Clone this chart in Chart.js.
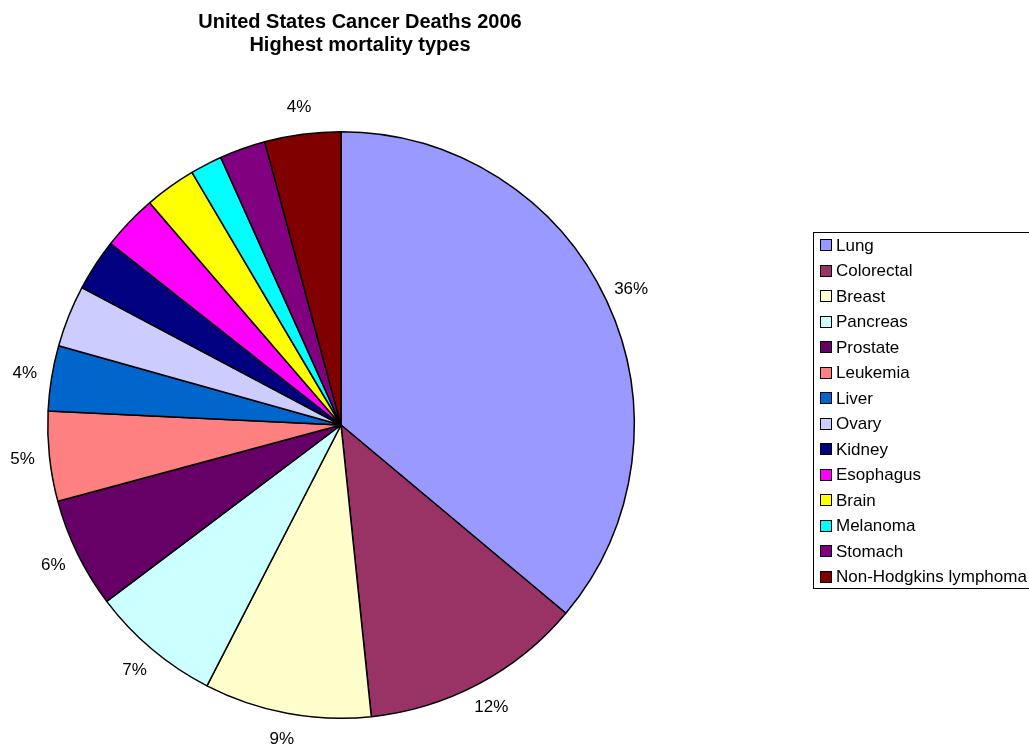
<!DOCTYPE html>
<html>
<head>
<meta charset="utf-8">
<title>United States Cancer Deaths 2006</title>
<script src="https://cdn.jsdelivr.net/npm/chart.js@4/dist/chart.umd.min.js"></script>
<style>
  html, body { margin: 0; padding: 0; background: #ffffff; }
  #wrap { width: 1029px; height: 745px; position: relative; }
</style>
</head>
<body>
<div id="wrap"><canvas id="chart" width="1029" height="745"></canvas></div>
<script>
// Estimated cancer deaths, United States 2006
const categories = [
  'Lung', 'Colorectal', 'Breast', 'Pancreas', 'Prostate', 'Leukemia', 'Liver',
  'Ovary', 'Kidney', 'Esophagus', 'Brain', 'Melanoma', 'Stomach', 'Non-Hodgkins lymphoma'
];
const deaths = [
  162460, 55170, 41430, 32300, 27350, 22280, 16200,
  15310, 12890, 13770, 12760, 7910, 11430, 18840
];
const sliceColors = [
  '#9999FF', '#993366', '#FFFFCC', '#CCFFFF', '#660066', '#FF8080', '#0066CC',
  '#CCCCFF', '#000080', '#FF00FF', '#FFFF00', '#00FFFF', '#800080', '#800000'
];
const titleLines = ['United States Cancer Deaths 2006', 'Highest mortality types'];
// Percentage labels are shown for the larger slices only
const labelMinShare = 0.035;

const FONT = '"Liberation Sans", Arial, sans-serif';

const annotations = {
  id: 'annotations',
  afterDraw(chart) {
    const ctx = chart.ctx;
    const meta = chart.getDatasetMeta(0);
    const values = chart.data.datasets[0].data;
    const total = values.reduce((a, b) => a + b, 0);

    // Title
    ctx.save();
    ctx.fillStyle = '#000';
    ctx.textAlign = 'center';
    ctx.textBaseline = 'middle';
    ctx.font = 'bold 20px ' + FONT;
    ctx.fillText(titleLines[0], 360, 22);
    ctx.fillText(titleLines[1], 360, 45);

    // Percentage labels outside the pie
    ctx.font = '17px ' + FONT;
    meta.data.forEach((arc, i) => {
      const share = values[i] / total;
      if (share < labelMinShare) return;
      const mid = (arc.startAngle + arc.endAngle) / 2;
      const r = arc.outerRadius + 27;
      const x = arc.x + Math.cos(mid) * r;
      const y = arc.y + Math.sin(mid) * r;
      ctx.fillText(Math.round(share * 100) + '%', x, y);
    });

    // Legend box
    const rowH = 25.5;
    ctx.strokeStyle = '#000';
    ctx.lineWidth = 1;
    ctx.strokeRect(813.5, 232.5, 240, 356);
    ctx.textAlign = 'left';
    ctx.font = '17px ' + FONT;
    chart.data.labels.forEach((lab, i) => {
      const cy = 245 + i * rowH;
      const top = Math.round(cy) - 5;
      ctx.fillStyle = sliceColors[i];
      ctx.fillRect(821, top, 10, 10);
      ctx.strokeRect(820.5, top - 0.5, 11, 11);
      ctx.fillStyle = '#000';
      ctx.fillText(lab, 836, cy + 1);
    });
    ctx.restore();
  }
};

new Chart(document.getElementById('chart'), {
  type: 'pie',
  data: {
    labels: categories,
    datasets: [{
      data: deaths,
      backgroundColor: sliceColors,
      borderColor: '#000000',
      borderWidth: 1.5
    }]
  },
  options: {
    responsive: false,
    animation: false,
    layout: { padding: { left: 47, right: 394, top: 131, bottom: 26 } },
    plugins: {
      legend: { display: false },
      title: { display: false },
      tooltip: { enabled: false }
    }
  },
  plugins: [annotations]
});
</script>
</body>
</html>
